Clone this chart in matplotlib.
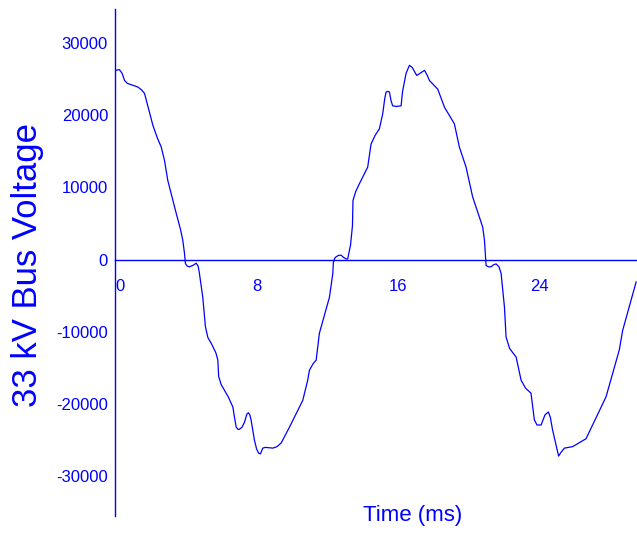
import matplotlib
matplotlib.use("Agg")
import matplotlib.pyplot as plt

plt.rcParams["font.family"] = ["Liberation Sans", "DejaVu Sans"]

# Waveform (time in ms, voltage in V)
time_ms = [
    0.00, 0.25, 0.40, 0.54, 0.70, 0.82, 1.05, 1.29, 1.50, 1.67,
    1.95, 2.14, 2.40, 2.61, 2.80, 2.98, 3.46, 3.70, 3.83, 3.93,
    3.98, 4.08, 4.21, 4.40, 4.59, 4.70, 4.77, 4.96, 5.11, 5.25,
    5.44, 5.70, 5.81, 5.86, 6.00, 6.19, 6.40, 6.66, 6.75, 6.85,
    6.95, 7.03, 7.18, 7.32, 7.45, 7.54, 7.62, 7.69, 7.88, 8.00,
    8.12, 8.22, 8.35, 8.50, 8.92, 9.15, 9.39, 9.86, 10.61, 10.89,
    10.99, 11.20, 11.37, 11.55, 12.12, 12.31, 12.34, 12.42, 12.50, 12.65,
    12.78, 12.92, 13.06, 13.15, 13.31, 13.42, 13.45, 13.60, 13.81, 14.28,
    14.47, 14.70, 14.94, 15.13, 15.25, 15.32, 15.42, 15.51, 15.60, 15.69,
    15.90, 16.17, 16.22, 16.26, 16.45, 16.64, 16.80, 17.05, 17.30, 17.49,
    17.65, 17.77, 18.24, 18.62, 19.18, 19.46, 19.84, 20.21, 20.78, 20.88,
    20.97, 21.10, 21.25, 21.40, 21.54, 21.70, 21.82, 22.01, 22.10, 22.30,
    22.67, 22.95, 23.20, 23.51, 23.70, 23.85, 24.08, 24.30, 24.49, 24.60,
    24.73, 25.07, 25.20, 25.40, 25.86, 26.62, 27.75, 28.50, 28.69, 29.45,
]
voltage = [
    26200, 26300, 25800, 24800, 24400, 24300, 24100, 23900, 23500, 23000,
    20400, 18600, 16800, 15600, 13700, 11000, 6400, 4200, 2700, 800,
    -550, -900, -1000, -800, -500, -900, -1900, -5200, -9300, -10800,
    -11600, -12900, -13900, -16200, -17300, -18100, -19000, -20400, -21800, -23200,
    -23500, -23500, -23200, -22500, -21400, -21200, -21500, -22200, -25000, -26200,
    -26800, -26900, -26100, -26000, -26100, -25900, -25400, -23200, -19500, -16700,
    -15300, -14400, -13900, -10200, -5200, -1900, -400, 200, 400, 600,
    600, 300, 100, 100, 2000, 4700, 8200, 9400, 10500, 12800,
    16000, 17200, 18100, 20200, 22400, 23200, 23300, 23200, 22000, 21300,
    21200, 21300, 22600, 23400, 25800, 26900, 26600, 25500, 25900, 26200,
    25500, 24800, 23600, 21100, 18800, 15600, 12800, 8700, 4500, 2700,
    -800, -1000, -1000, -700, -600, -1000, -1900, -6600, -10700, -12300,
    -13500, -16700, -17800, -18500, -22200, -22900, -22900, -21500, -21100, -21800,
    -23600, -27200, -26700, -26100, -25900, -24800, -19000, -12500, -9800, -3100,
]

x_ticks = [0, 8, 16, 24]
y_ticks = [-30000, -20000, -10000, 0, 10000, 20000, 30000]

blue = "#0000ff"

fig = plt.figure(figsize=(6.37, 5.34), dpi=100)
ax = fig.add_axes([115 / 637, 18 / 534, 522 / 637, 507 / 534])

ax.plot(time_ms, voltage, color=blue, lw=0.9, solid_joinstyle="round")

ax.set_xlim(0, 29.5)
ax.set_ylim(-35500, 34700)

# Axis lines
ax.spines["top"].set_visible(False)
ax.spines["right"].set_visible(False)
ax.spines["bottom"].set_position(("data", 0))
for side in ["left", "bottom"]:
    ax.spines[side].set_color(blue)
    ax.spines[side].set_linewidth(1.0)

ax.set_xticks(x_ticks)
ax.set_xticklabels([str(t) for t in x_ticks])
ax.set_yticks(y_ticks)
ax.set_yticklabels([str(v) for v in y_ticks])
ax.tick_params(axis="x", length=0, pad=14, labelsize=12, labelcolor=blue)
ax.tick_params(axis="y", length=0, pad=5, labelsize=12, labelcolor=blue)
ax.get_xticklabels()[0].set_horizontalalignment("left")

# Axis titles
fig.text(28 / 637, 1 - 265 / 534, "33 kV Bus Voltage", rotation=90,
         ha="center", va="center", fontsize=25, color=blue)
fig.text(413 / 637, 1 - 515 / 534, "Time (ms)",
         ha="center", va="center", fontsize=16, color=blue)

fig.savefig("out.png", dpi=100)
